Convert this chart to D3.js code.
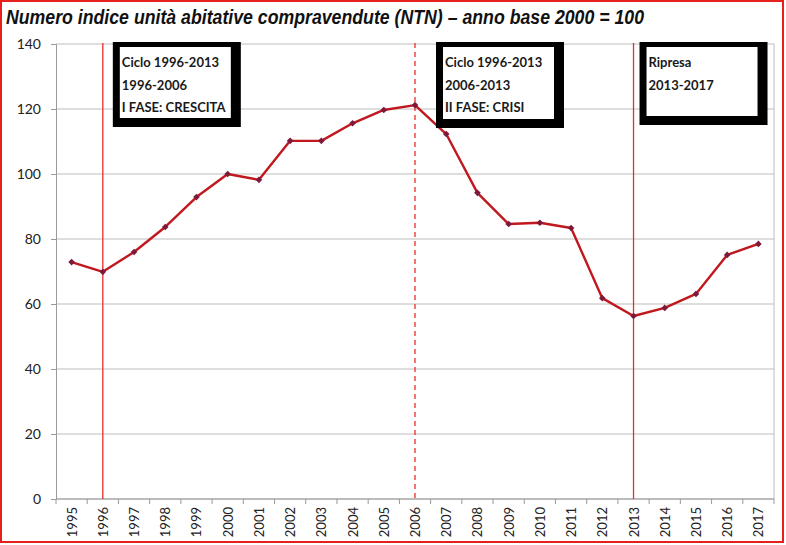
<!DOCTYPE html>
<html>
<head>
<meta charset="utf-8">
<script src="https://cdn.jsdelivr.net/npm/d3@7"></script>
<style>
  body { margin: 0; background: #fff; }
  svg { display: block; }
</style>
</head>
<body>
<div id="chart"></div>
<script>
// data
const years = ["1995","1996","1997","1998","1999","2000","2001","2002","2003","2004","2005","2006",
               "2007","2008","2009","2010","2011","2012","2013","2014","2015","2016","2017"]
const ntnIndex = [72.9, 69.9, 76.0, 83.7, 92.9, 100.0, 98.2, 110.2, 110.2, 115.6, 119.7, 121.2,
                  112.3, 94.2, 84.6, 85.0, 83.4, 61.8, 56.3, 58.8, 63.1, 75.1, 78.5]
const yTicks = [0, 20, 40, 60, 80, 100, 120, 140]

// phase markers and notes
const phaseLines = [
  { year: "1996", dashed: false },
  { year: "2006", dashed: true },
  { year: "2013", dashed: false }
]
const notes = [
  { from: "1996", shift: 10, h: 85, lines: ["Ciclo 1996-2013", "1996-2006", "I FASE: CRESCITA"] },
  { from: "2006", shift: 21, h: 86, lines: ["Ciclo 1996-2013", "2006-2013", "II FASE: CRISI"] },
  { from: "2013", shift: 6, h: 83, lines: ["Ripresa", "2013-2017"] }
]
const title = "Numero indice unità abitative compravendute (NTN) \u2013 anno base 2000 = 100"

const W = 786, H = 545
const margin = { top: 44, right: 12, bottom: 46, left: 56 }
const width = W - margin.left - margin.right
const height = H - margin.top - margin.bottom

const svg = d3.select("#chart").append("svg")
  .attr("width", W)
  .attr("height", H)

// outer red frame
svg.append("rect")
  .attr("x", 1).attr("y", 1)
  .attr("width", W - 4).attr("height", H - 4)
  .attr("fill", "none")
  .attr("stroke", "#e8201c")
  .attr("stroke-width", 2)

svg.append("text")
  .attr("x", 6).attr("y", 24)
  .attr("font-family", "Liberation Sans Narrow, Liberation Sans, Arial")
  .attr("font-size", 21)
  .attr("font-weight", "bold")
  .attr("font-style", "italic")
  .attr("fill", "#111")
  .attr("textLength", 638)
  .attr("lengthAdjust", "spacingAndGlyphs")
  .text(title)

const g = svg.append("g")
  .attr("transform", `translate(${margin.left},${margin.top})`)

const x = d3.scaleBand().domain(years).range([0, width])
const y = d3.scaleLinear().domain([0, 140]).range([height, 0])
const cx = d => x(d) + x.bandwidth() / 2

// gridlines
g.append("g")
  .selectAll("line")
  .data(yTicks)
  .join("line")
    .attr("x1", 0).attr("x2", width)
    .attr("y1", d => y(d)).attr("y2", d => y(d))
    .attr("stroke", "#bdbdbd")
    .attr("stroke-width", 1)

// right border of plot area
g.append("line")
  .attr("x1", width).attr("x2", width)
  .attr("y1", 0).attr("y2", height)
  .attr("stroke", "#bdbdbd")

// Y axis
const yAxis = g.append("g")
  .call(d3.axisLeft(y).tickValues(yTicks).tickSize(5).tickPadding(10))
yAxis.select(".domain").attr("stroke", "#9a9a9a")
yAxis.selectAll(".tick line").attr("stroke", "#9a9a9a")
yAxis.selectAll("text")
  .attr("font-family", "Lato, Carlito, sans-serif")
  .attr("font-size", 14)
  .attr("fill", "#222")

// X axis: ticks between categories
const xAxis = g.append("g")
  .attr("transform", `translate(0,${height})`)
xAxis.append("line")
  .attr("x1", 0).attr("x2", width)
  .attr("stroke", "#9a9a9a")
xAxis.selectAll(".sep")
  .data(years.concat([null]))
  .join("line")
    .attr("class", "sep")
    .attr("x1", (d, i) => i * x.step()).attr("x2", (d, i) => i * x.step())
    .attr("y1", 0).attr("y2", 5)
    .attr("stroke", "#9a9a9a")
xAxis.selectAll("text")
  .data(years)
  .join("text")
    .attr("transform", d => `translate(${cx(d) + 5},8) rotate(-90)`)
    .attr("text-anchor", "end")
    .attr("font-family", "Lato, Carlito, sans-serif")
    .attr("font-size", 13)
    .attr("fill", "#222")
    .text(d => d)

// phase lines
g.append("g")
  .selectAll("line")
  .data(phaseLines)
  .join("line")
    .attr("x1", d => cx(d.year)).attr("x2", d => cx(d.year))
    .attr("y1", -1).attr("y2", height)
    .attr("stroke", "#ee2b2b")
    .attr("stroke-width", 1.3)
    .attr("stroke-dasharray", d => d.dashed ? "5,4" : null)

// the series line
g.append("path")
  .datum(ntnIndex)
  .attr("fill", "none")
  .attr("stroke", "#c0181e")
  .attr("stroke-width", 2.4)
  .attr("stroke-linejoin", "round")
  .attr("d", d3.line()
    .x((d, i) => cx(years[i]))
    .y(d => y(d)))

g.append("g")
  .selectAll("path")
  .data(ntnIndex)
  .join("path")
    .attr("transform", (d, i) => `translate(${cx(years[i])},${y(d)}) rotate(45)`)
    .attr("d", d3.symbol().type(d3.symbolSquare).size(22))
    .attr("fill", "#7d1a3c")

// note boxes with the heavy black frame (thin top/left, thick right/bottom)
const boxW = 128
const box = g.append("g")
  .selectAll("g")
  .data(notes)
  .join("g")
    .attr("transform", d => `translate(${cx(d.from) + d.shift},-2)`)
box.append("rect")
  .attr("width", boxW).attr("height", d => d.h)
  .attr("fill", "#000")
box.append("rect")
  .attr("x", 7).attr("y", 5)
  .attr("width", boxW - 17).attr("height", d => d.h - 14)
  .attr("fill", "#fff")
box.selectAll("text")
  .data(d => d.lines)
  .join("text")
    .attr("x", 9)
    .attr("y", (d, i) => 25 + i * 22.5)
    .attr("font-family", "Lato, Carlito, sans-serif")
    .attr("font-weight", "bold")
    .attr("font-size", 13)
    .attr("fill", "#1a1a1a")
    .text(d => d)
</script>
</body>
</html>
